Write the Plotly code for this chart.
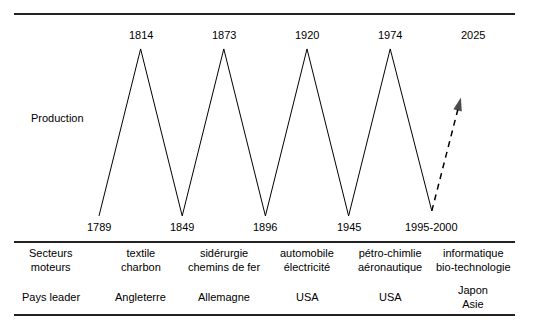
import plotly.graph_objects as go

# ---- data ----
years = ["1789", "1814", "1849", "1873", "1896", "1920", "1945", "1974", "1995-2000"]
production = [0, 1, 0, 1, 0, 1, 0, 1, 0.03]   # 0 = trough, 1 = peak
forecast_year = "2025"
forecast_level = 1
forecast_reach = 0.70                          # share of the way the dashed arrow goes
row_headers = ["Secteurs<br>moteurs", "Pays leader"]
sectors = ["textile<br>charbon", "sidérurgie<br>chemins de fer", "automobile<br>électricité",
           "pétro-chimlie<br>aéronautique", "informatique<br>bio-technologie"]
leaders = ["Angleterre", "Allemagne", "USA", "USA", "Japon<br>Asie"]
y_label = "Production"

FONT = dict(family="Liberation Sans, Arial, sans-serif", size=11, color="#000")
xs = list(range(len(years)))
fx = len(years)  # position of forecast peak

fig = go.Figure()
# zig-zag
fig.add_trace(go.Scatter(x=xs, y=production, mode="lines",
                         line=dict(color="#000", width=1), hoverinfo="skip"))
# dashed forecast arrow
x0, y0 = xs[-1], production[-1]
x1 = x0 + (fx - x0) * forecast_reach
y1 = y0 + (forecast_level - y0) * forecast_reach
fig.add_trace(go.Scatter(x=[x0, x1], y=[y0, y1], mode="lines+markers",
                         line=dict(color="#000", width=1.5, dash="6px,5px"),
                         marker=dict(size=[0, 14], symbol="arrow", angleref="previous",
                                     color="#000", line=dict(width=0)),
                         hoverinfo="skip"))

# year labels
peak_off, trough_lvl = 0.084, -0.066
for i, (yr, v) in enumerate(zip(years, production)):
    yy = v + peak_off if v >= 0.5 else trough_lvl
    fig.add_annotation(x=i, y=yy, text=yr, showarrow=False, font=FONT,
                       xanchor="center", yanchor="middle")
fig.add_annotation(x=fx, y=forecast_level + peak_off, text=forecast_year, showarrow=False,
                   font=FONT, xanchor="center", yanchor="middle")

fig.add_annotation(x=-1.0, y=0.587, text=y_label, showarrow=False, font=FONT,
                   xanchor="center", yanchor="middle")

# table
row_y = [-0.266, -0.485]
header_x = -1.15
for r, h in enumerate(row_headers):
    fig.add_annotation(x=header_x, y=row_y[r], text=h, showarrow=False, font=FONT,
                       xanchor="center", yanchor="middle")
col_x = [1, 3, 5, 7, fx]
for cx, s, l in zip(col_x, sectors, leaders):
    fig.add_annotation(x=cx, y=row_y[0], text=s, showarrow=False, font=FONT,
                       xanchor="center", yanchor="middle")
    fig.add_annotation(x=cx, y=row_y[1], text=l, showarrow=False, font=FONT,
                       xanchor="center", yanchor="middle")

# rules
for py in [1 - 14 / 336, 1 - 242 / 336, 1 - 315 / 336]:
    fig.add_shape(type="line", xref="paper", yref="paper", x0=14 / 545, x1=515 / 545,
                  y0=py, y1=py, line=dict(color="#222", width=2))

fig.update_layout(
    width=545, height=336, margin=dict(l=0, r=0, t=0, b=0),
    paper_bgcolor="white", plot_bgcolor="white", showlegend=False,
    xaxis=dict(range=[-2.380, 10.721], visible=False, fixedrange=True),
    yaxis=dict(range=[-0.719, 1.293], visible=False, fixedrange=True),
)
fig.write_html("out.html")
